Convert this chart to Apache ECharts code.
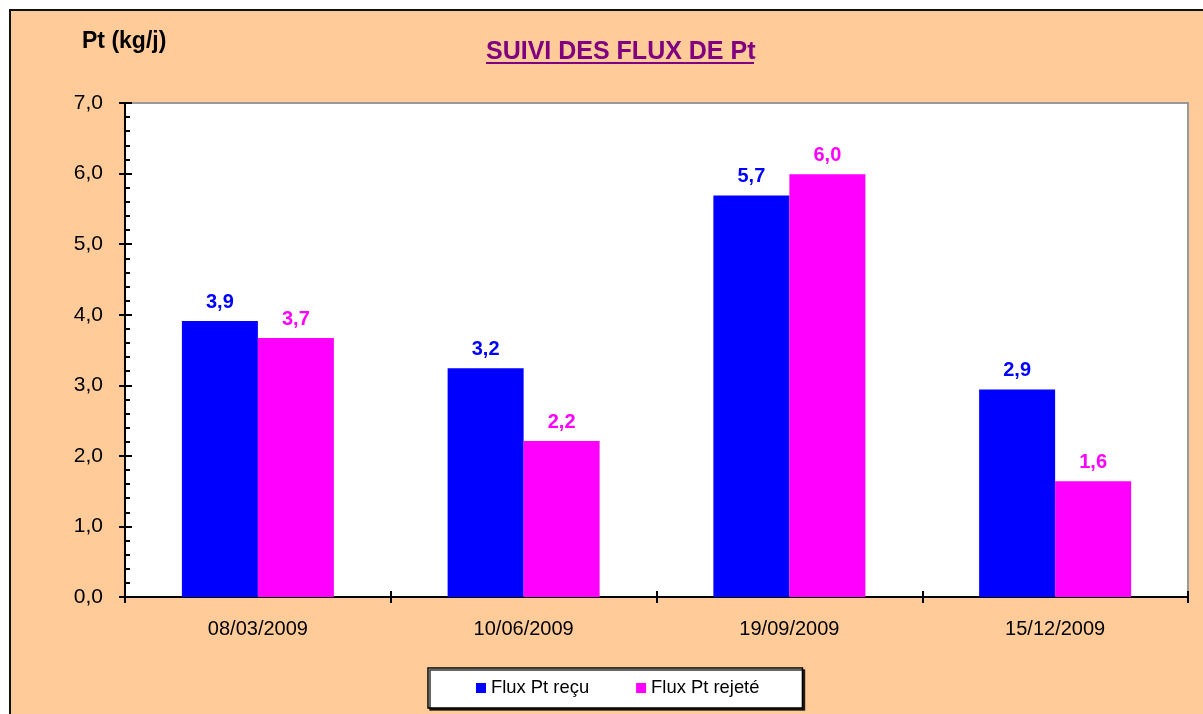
<!DOCTYPE html>
<html>
<head>
<meta charset="utf-8">
<script src="https://cdn.jsdelivr.net/npm/echarts@6/dist/echarts.min.js"></script>
<style>
	html, body { margin: 0; padding: 0; background: #fff; }
	#chart { width: 1203px; height: 714px; }
</style>
</head>
<body>
<div id="chart"></div>
<script>
// dates des prélèvements
var dates = ['08/03/2009', '10/06/2009', '19/09/2009', '15/12/2009'];
// flux reçu / rejeté (kg/j)
var fluxRecu = [3.91, 3.24, 5.69, 2.94];
var fluxRejete = [3.67, 2.21, 5.99, 1.64];
var seriesNames = ['Flux Pt reçu', 'Flux Pt rejeté'];
var yTicks = [0, 7, 1]; // min, max, pas

var font = '"Liberation Sans", Arial, sans-serif';

function fmt(v) {
	return v.toFixed(1).replace('.', ',');
}

var myChart = echarts.init(document.getElementById('chart'));

var option = {
	backgroundColor: '#ffffff',
	animation: false,
	textStyle: { fontFamily: font },
	graphic: [
		{
			// cadre du graphique
			type: 'rect',
			z: -10,
			shape: { x: 10, y: 10, width: 1210, height: 720 },
			style: { fill: '#FFCC99', stroke: '#111', lineWidth: 2 }
		},
		{
			type: 'text',
			x: 82, y: 42,
			style: {
				text: 'Pt (kg/j)', fill: '#000', font: 'bold 23px ' + font,
				verticalAlign: 'middle'
			}
		},
		{
			type: 'text',
			x: 486, y: 52,
			style: {
				text: 'SUIVI DES FLUX DE Pt', fill: '#800080', font: 'bold 25px ' + font,
				verticalAlign: 'middle'
			}
		},
		{
			// soulignement du titre
			type: 'rect',
			shape: { x: 486, y: 62, width: 268, height: 2 },
			style: { fill: '#800080' }
		}
	],
	grid: {
		left: 125,
		top: 103,
		right: 15,
		bottom: 117,
		show: true,
		backgroundColor: '#ffffff',
		borderColor: '#999999',
		borderWidth: 2
	},
	legend: {
		data: seriesNames,
		left: 428,
		top: 668,
		icon: 'rect',
		itemWidth: 10,
		itemHeight: 10,
		itemGap: 47,
		padding: [11, 43, 11, 48],
		backgroundColor: '#ffffff',
		borderColor: '#000',
		borderWidth: 1.5,
		shadowColor: 'rgba(0,0,0,0.8)',
		shadowOffsetX: 2,
		shadowOffsetY: 2,
		shadowBlur: 0,
		textStyle: { fontSize: 18.4, color: '#000', fontFamily: font }
	},
	xAxis: [{
		type: 'category',
		data: dates,
		position: 'bottom',
		axisLine: { lineStyle: { color: '#000', width: 2 } },
		axisTick: { show: true, inside: false, length: 6, lineStyle: { color: '#000', width: 2 } },
		axisLabel: { fontSize: 20, color: '#000', margin: 22, fontFamily: font },
		splitLine: { show: false }
	}, {
		type: 'category',
		data: dates,
		position: 'bottom',
		axisLine: { show: false },
		axisTick: { show: true, inside: true, length: 6, lineStyle: { color: '#000', width: 2 } },
		axisLabel: { show: false },
		splitLine: { show: false }
	}],
	yAxis: [{
		type: 'value',
		min: yTicks[0],
		max: yTicks[1],
		interval: yTicks[2],
		position: 'left',
		axisLine: { show: true, lineStyle: { color: '#000', width: 2 } },
		axisTick: { show: true, inside: true, length: 7, lineStyle: { color: '#000', width: 2 } },
		minorTick: { show: true, splitNumber: 5, length: 5, lineStyle: { color: '#000', width: 2 } },
		axisLabel: {
			fontSize: 21, color: '#000', margin: 22, fontFamily: font,
			formatter: function(v) { return fmt(v); }
		},
		splitLine: { show: false }
	}, {
		type: 'value',
		min: yTicks[0],
		max: yTicks[1],
		interval: yTicks[2],
		position: 'left',
		axisLine: { show: false },
		axisTick: { show: true, inside: false, length: 6, lineStyle: { color: '#000', width: 2 } },
		axisLabel: { show: false },
		splitLine: { show: false }
	}],
	series: [{
		name: seriesNames[0],
		type: 'bar',
		xAxisIndex: 0,
		yAxisIndex: 0,
		barWidth: 76,
		barGap: '0%',
		itemStyle: { color: '#0000FF' },
		label: {
			show: true,
			position: 'top',
			distance: 9,
			color: '#0000FF',
			fontWeight: 'bold',
			fontSize: 20,
			fontFamily: font,
			formatter: function(p) { return fmt(p.value); }
		},
		data: fluxRecu
	}, {
		name: seriesNames[1],
		type: 'bar',
		xAxisIndex: 0,
		yAxisIndex: 0,
		barWidth: 76,
		barGap: '0%',
		itemStyle: { color: '#FF00FF' },
		label: {
			show: true,
			position: 'top',
			distance: 9,
			color: '#FF00FF',
			fontWeight: 'bold',
			fontSize: 20,
			fontFamily: font,
			formatter: function(p) { return fmt(p.value); }
		},
		data: fluxRejete
	}]
};

myChart.setOption(option);
</script>
</body>
</html>
